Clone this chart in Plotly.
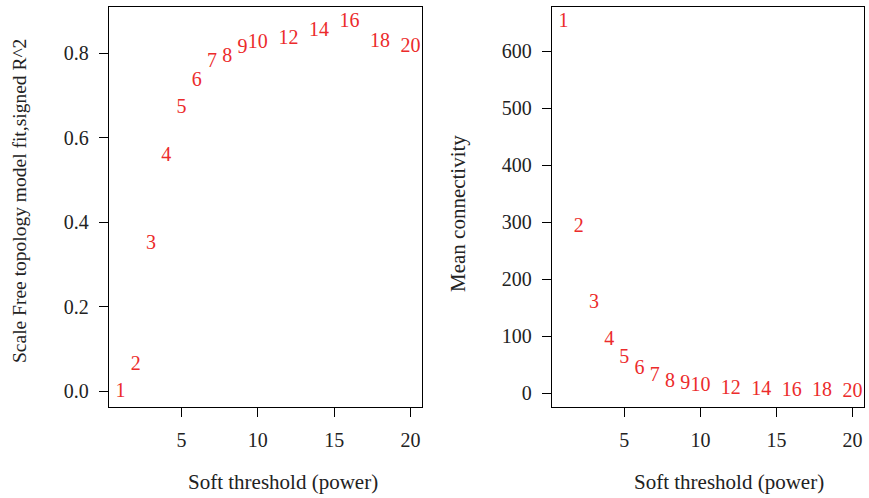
import plotly.graph_objects as go

powers = [1, 2, 3, 4, 5, 6, 7, 8, 9, 10, 12, 14, 16, 18, 20]
sft_r2 = [-0.002, 0.062, 0.349, 0.557, 0.671, 0.735, 0.780, 0.792, 0.813, 0.825,
          0.835, 0.854, 0.875, 0.828, 0.815]
mean_k = [652, 292, 158, 93, 61, 42, 30, 20, 16, 13, 7, 5, 3, 3, 1.5]
labels = [str(p) for p in powers]
x_ticks = [5, 10, 15, 20]

W, H = 869, 498
FONT = "Liberation Serif"
RED = "#ec2b2b"


def ext(vals):
    lo, hi = min(vals), max(vals)
    d = (hi - lo) * 0.04
    return [lo - d, hi + d]


fig = go.Figure()
fig.add_trace(go.Scatter(x=powers, y=sft_r2, mode="text", text=labels,
                         textposition="middle center",
                         textfont=dict(family=FONT, size=20, color=RED),
                         xaxis="x", yaxis="y", showlegend=False, hoverinfo="skip"))
fig.add_trace(go.Scatter(x=powers, y=mean_k, mode="text", text=labels,
                         textposition="middle center",
                         textfont=dict(family=FONT, size=20, color=RED),
                         xaxis="x2", yaxis="y2", showlegend=False, hoverinfo="skip"))

ydom = [(H - 407) / H, (H - 7) / H]
axis_common = dict(showline=True, mirror=True, linecolor="black", linewidth=1.3,
                   ticks="outside", ticklen=9, tickwidth=1.2, tickcolor="black",
                   showgrid=False, zeroline=False, ticklabelstandoff=6,
                   tickfont=dict(family=FONT, size=20, color="#222222"))

fig.update_layout(
    width=W, height=H,
    margin=dict(l=0, r=0, t=0, b=0),
    paper_bgcolor="white", plot_bgcolor="white",
    xaxis=dict(domain=[109 / W, 422 / W], range=ext(powers), tickvals=x_ticks,
               anchor="y", **axis_common),
    yaxis=dict(domain=ydom, range=ext(sft_r2), tickvals=[0, 0.2, 0.4, 0.6, 0.8],
               tickformat=".1f", anchor="x", **axis_common),
    xaxis2=dict(domain=[552 / W, 864 / W], range=ext(powers), tickvals=x_ticks,
                anchor="y2", **axis_common),
    yaxis2=dict(domain=ydom, range=ext(mean_k), tickvals=[0, 100, 200, 300, 400, 500, 600],
                anchor="x2", **axis_common),
)

title_font = dict(family=FONT, size=21, color="#222222")
fig.add_annotation(text="Soft threshold (power)", x=283 / W, y=(H - 482) / H,
                   xref="paper", yref="paper", showarrow=False, font=title_font,
                   xanchor="center", yanchor="middle")
fig.add_annotation(text="Soft threshold (power)", x=729 / W, y=(H - 482) / H,
                   xref="paper", yref="paper", showarrow=False, font=title_font,
                   xanchor="center", yanchor="middle")
fig.add_annotation(text="Scale Free topology model fit,signed R^2", x=19 / W, y=(H - 201) / H,
                   xref="paper", yref="paper", showarrow=False,
                   font=dict(family=FONT, size=19.5, color="#222222"),
                   textangle=-90, xanchor="center", yanchor="middle")
fig.add_annotation(text="Mean connectivity", x=458 / W, y=(H - 214) / H,
                   xref="paper", yref="paper", showarrow=False, font=title_font,
                   textangle=-90, xanchor="center", yanchor="middle")

fig.write_html("out.html")
